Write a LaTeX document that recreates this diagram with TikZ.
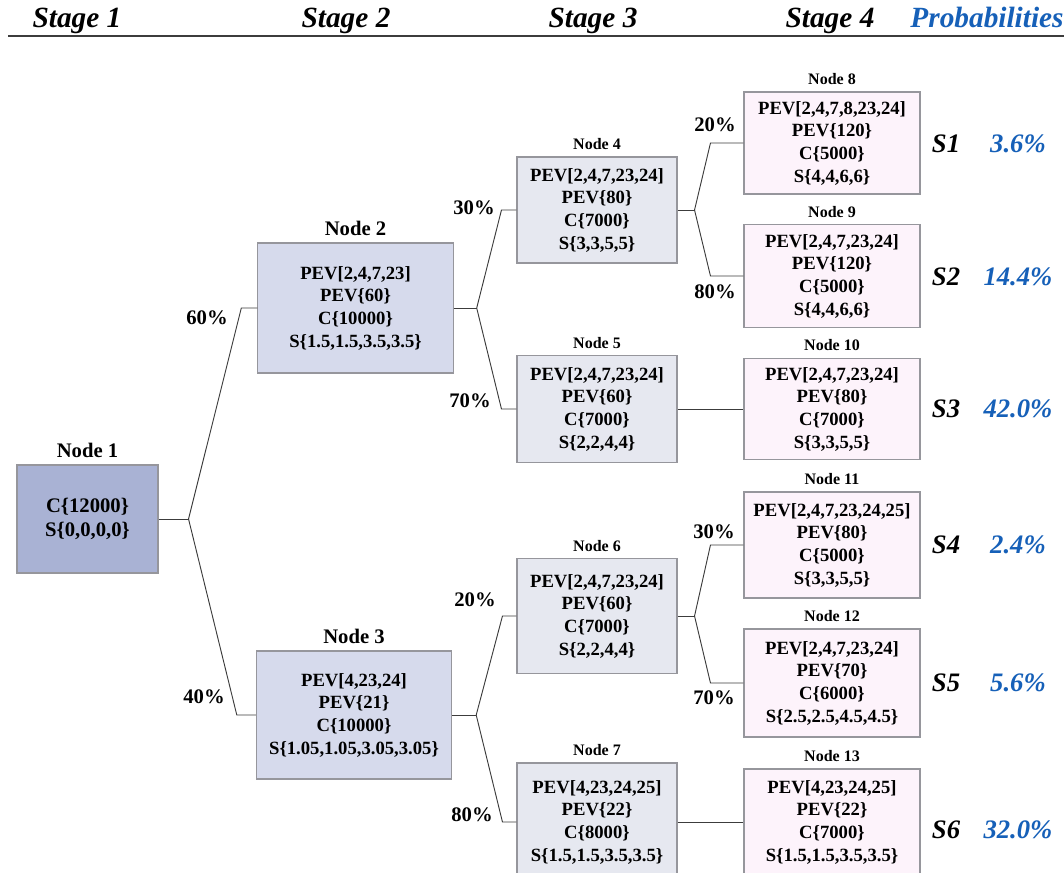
\documentclass[tikz,border=0pt]{standalone}
\usepackage{fontspec}
\setmainfont{Liberation Serif}
\usetikzlibrary{positioning}
\definecolor{probblue}{RGB}{22,96,184}
\definecolor{rootfill}{RGB}{169,178,212}
\definecolor{secfill}{RGB}{214,218,236}
\definecolor{thirdfill}{RGB}{230,232,240}
\definecolor{leaffill}{RGB}{253,243,251}
\definecolor{boxline}{RGB}{150,150,156}
\definecolor{linkgray}{RGB}{60,60,60}
\tikzset{
  box/.style={draw=boxline, line width=0.8pt, align=center, inner sep=0pt,
    font=\fontsize{14}{17}\selectfont\bfseries},
  rootbox/.style={box, fill=rootfill, minimum width=105.75pt,
    font=\fontsize{15.5}{17.5}\selectfont\bfseries},
  secbox/.style={box, fill=secfill, minimum width=146.5pt},
  thirdbox/.style={box, fill=thirdfill, minimum width=120pt},
  leafbox/.style={box, fill=leaffill, minimum width=132pt},
  biglbl/.style={inner sep=0pt, font=\fontsize{15.5}{18}\selectfont\bfseries},
  smalllbl/.style={inner sep=0pt, font=\fontsize{12}{14}\selectfont\bfseries},
  pct/.style={inner sep=0pt, font=\fontsize{15.5}{18}\selectfont\bfseries},
  head/.style={inner sep=0pt, anchor=base, font=\fontsize{22}{24}\selectfont\bfseries\itshape},
  scen/.style={inner sep=0pt, font=\fontsize{20}{24}\selectfont\bfseries\itshape},
  prob/.style={scen, text=probblue},
  link/.style={draw=linkgray, line width=0.7pt}
}
\begin{document}
\begin{tikzpicture}[x=0.75pt,y=-0.75pt]
\useasboundingbox (0,0) rectangle (1064,872);
\clip (0,0) rectangle (1064,872);
% stage headings
\foreach \xx/\st in {77/Stage 1,346/Stage 2,593/Stage 3,830/Stage 4}
  \node[head] (h\xx) at (\xx,27) {\st};
\node[head, text=probblue] (hprob) at (987,27) {Probabilities};
\draw[linkgray, line width=1.5pt] (8,36) -- (1064,36);

% stage 1 and 2
\node[rootbox, minimum height=81pt] (n1) at (87.5,519) {C\{12000\}\\S\{0,0,0,0\}};
\node[secbox, minimum height=97.5pt] (n2) at (355.5,308) {PEV[2,4,7,23]\\PEV\{60\}\\C\{10000\}\\S\{1.5,1.5,3.5,3.5\}};
\node[secbox, minimum height=96pt] (n3) at (354,715) {PEV[4,23,24]\\PEV\{21\}\\C\{10000\}\\S\{1.05,1.05,3.05,3.05\}};

% stage 3
\node[thirdbox, minimum height=79.5pt] (n4) at (597,210) {PEV[2,4,7,23,24]\\PEV\{80\}\\C\{7000\}\\S\{3,3,5,5\}};
\node[thirdbox, minimum height=80pt] (n5) at (597,409) {PEV[2,4,7,23,24]\\PEV\{60\}\\C\{7000\}\\S\{2,2,4,4\}};
\node[thirdbox, minimum height=86pt] (n6) at (597,616) {PEV[2,4,7,23,24]\\PEV\{60\}\\C\{7000\}\\S\{2,2,4,4\}};
\node[thirdbox, minimum height=88.5pt] (n7) at (597,822) {PEV[4,23,24,25]\\PEV\{22\}\\C\{8000\}\\S\{1.5,1.5,3.5,3.5\}};

% stage 4
\node[leafbox, minimum height=76.5pt] (n8) at (832,143) {PEV[2,4,7,8,23,24]\\PEV\{120\}\\C\{5000\}\\S\{4,4,6,6\}};
\node[leafbox, minimum height=77pt] (n9) at (832,276) {PEV[2,4,7,23,24]\\PEV\{120\}\\C\{5000\}\\S\{4,4,6,6\}};
\node[leafbox, minimum height=76pt] (n10) at (832,409) {PEV[2,4,7,23,24]\\PEV\{80\}\\C\{7000\}\\S\{3,3,5,5\}};
\node[leafbox, minimum height=79.5pt] (n11) at (832,545) {PEV[2,4,7,23,24,25]\\PEV\{80\}\\C\{5000\}\\S\{3,3,5,5\}};
\node[leafbox, minimum height=81pt] (n12) at (832,683) {PEV[2,4,7,23,24]\\PEV\{70\}\\C\{6000\}\\S\{2.5,2.5,4.5,4.5\}};
\node[leafbox, minimum height=79.5pt] (n13) at (832,822) {PEV[4,23,24,25]\\PEV\{22\}\\C\{7000\}\\S\{1.5,1.5,3.5,3.5\}};

% node titles
\foreach \k in {1,2,3}
  \node[biglbl, above=5pt of n\k] (l\k) {Node \k};
\foreach \k in {4,...,13}
  \node[smalllbl, above=5pt of n\k] (l\k) {Node \k};

% branches
\draw[link] (n1.east) -- ++(30,0) coordinate (b1);
\draw[link] (n2.west) -- ++(-16,0) -- (b1);
\draw[link] (n3.west) -- ++(-19,0) -- (b1);
\draw[link] (n2.east) -- ++(23,0) coordinate (b2);
\draw[link] (n4.west) -- ++(-15,0) -- (b2);
\draw[link] (n5.west) -- ++(-15,0) -- (b2);
\draw[link] (n3.east) -- ++(24,0) coordinate (b3);
\draw[link] (n6.west) -- ++(-14,0) -- (b3);
\draw[link] (n7.west) -- ++(-14,0) -- (b3);
\draw[link] (n4.east) -- ++(17,0) coordinate (b4);
\draw[link] (n8.west) -- ++(-33,0) -- (b4);
\draw[link] (n9.west) -- ++(-33,0) -- (b4);
\draw[link] (n6.east) -- ++(17,0) coordinate (b6);
\draw[link] (n11.west) -- ++(-33,0) -- (b6);
\draw[link] (n12.west) -- ++(-33,0) -- (b6);
\draw[link] (n5.east) -- (n10.west);
\draw[link] (n7.east) -- (n13.west);

% branch probabilities
\node[pct] (p2) at (207,318) {60\%};
\node[pct] (p3) at (204,697) {40\%};
\node[pct] (p4) at (474,208) {30\%};
\node[pct] (p5) at (470,401) {70\%};
\node[pct] (p6) at (475,600) {20\%};
\node[pct] (p7) at (472,815) {80\%};
\node[pct] (p8) at (715,125) {20\%};
\node[pct] (p9) at (715,292) {80\%};
\node[pct] (p11) at (714,532) {30\%};
\node[pct] (p12) at (714,698) {70\%};

% scenarios
\foreach \i/\yy/\pp in {1/144/3.6,2/277/14.4,3/409/42.0,4/545/2.4,5/683/5.6,6/830/32.0}{
  \node[scen] (s\i) at (946,\yy) {S\i};
  \node[prob] (q\i) at (1018,\yy) {\pp\%};
}
\end{tikzpicture}
\end{document}
